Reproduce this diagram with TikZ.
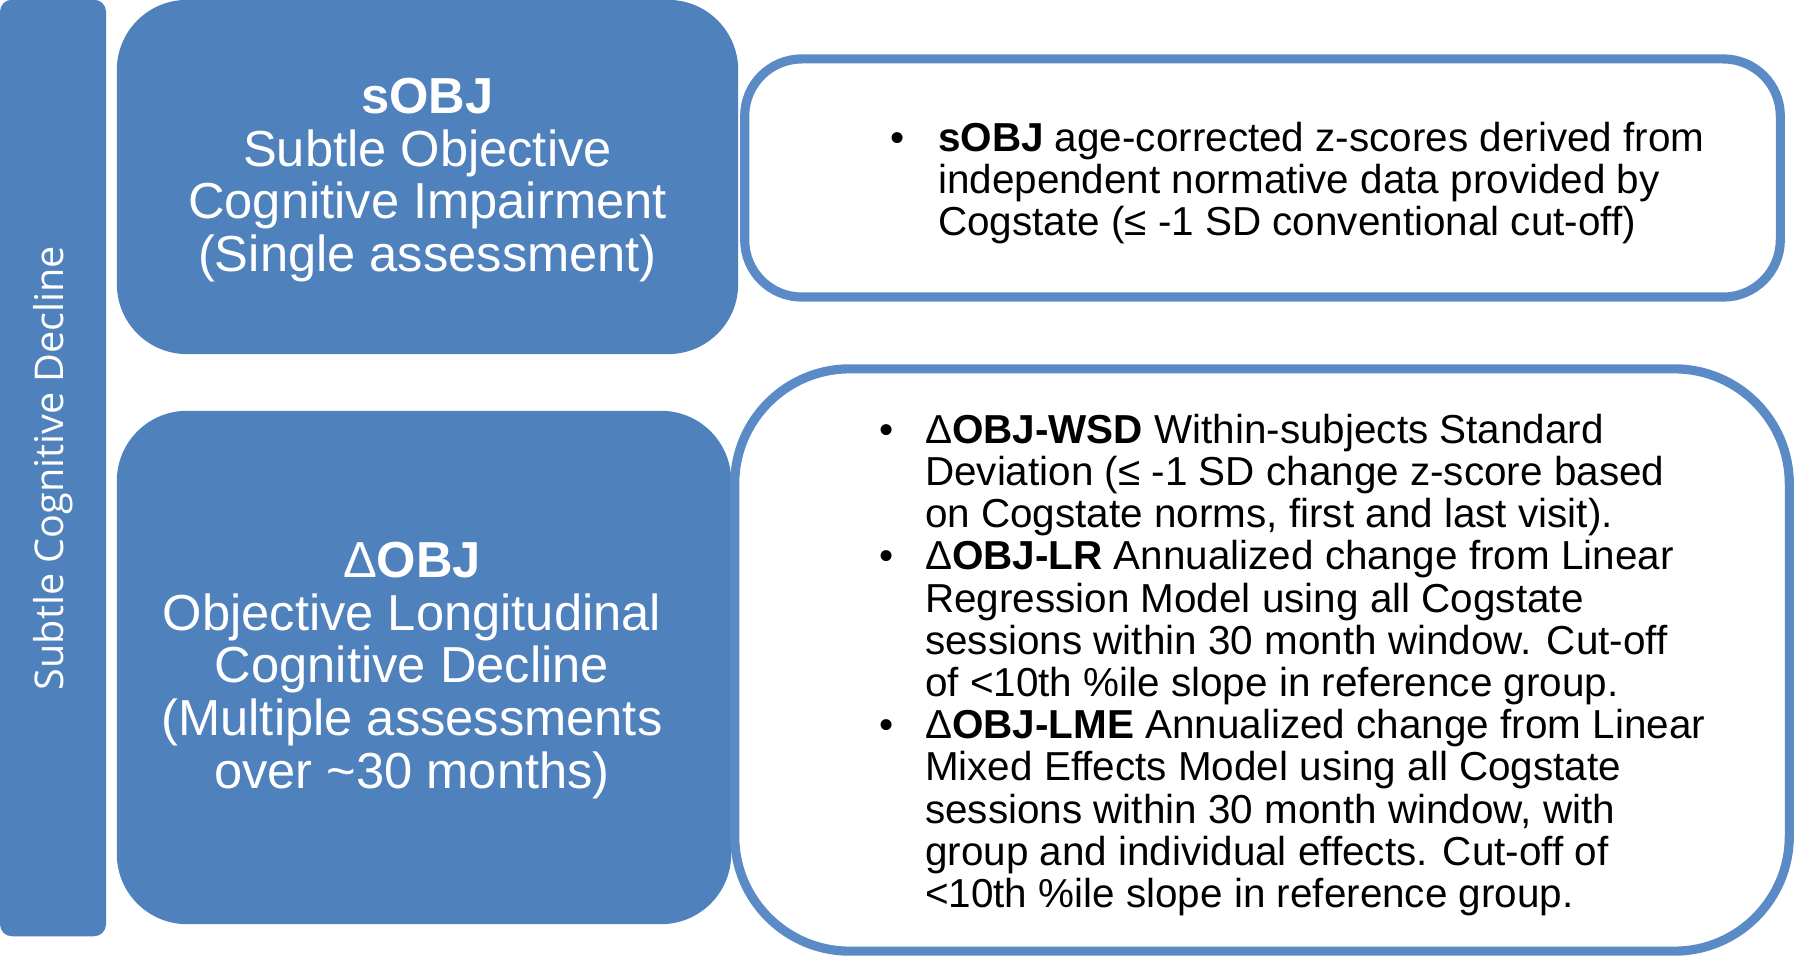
\documentclass[tikz,border=0pt]{standalone}
\usepackage{fontspec}
\setmainfont{Liberation Sans}
\newfontfamily\sidefont{Open Sans}
\usetikzlibrary{positioning}
\definecolor{boxblue}{HTML}{4F81BD}
\definecolor{rimblue}{HTML}{5B8BC6}
\begin{document}
\begin{tikzpicture}[x=0.01cm,y=-0.01cm,
  sidebar/.style={fill=boxblue,rounded corners=0.12cm,minimum width=9.36cm,minimum height=1.06cm,
    rotate=90,text=white,font=\sidefont\fontsize{11.25}{13}\selectfont},
  keybox/.style={fill=boxblue,rounded corners=0.7cm,text=white,
    font=\fontsize{14.4}{15}\selectfont},
  notebox/.style={draw=rimblue,line width=2.6pt,fill=white},
  notetext/.style={inner sep=0pt,yshift=-0.07cm,font=\fontsize{11.5}{12}\selectfont}]
  \useasboundingbox (0,0) rectangle (1800,958);
  \node[sidebar] (bar) at (53,468) {Subtle Cognitive Decline};
  \node[keybox,minimum width=6.21cm,minimum height=3.54cm] (sobj) at (427.5,177)
    {\begin{tabular}{@{}c@{}}\rule{0pt}{13.3pt}\textbf{sOBJ}\\Subtle Objective\\Cognitive Impairment\\(Single assessment)\end{tabular}};
  \node[keybox,minimum width=6.14cm,minimum height=5.13cm] (dobj) at (424,667.5)
    {\begin{tabular}{@{}c@{\hspace{0.24cm}}}\rule{0pt}{13.3pt}Δ\textbf{OBJ}\\Objective Longitudinal\\Cognitive Decline\\(Multiple assessments\\over \textasciitilde30 months)\end{tabular}};
  \node[notebox,rounded corners=0.57cm,minimum width=10.35cm,minimum height=2.38cm] (snote) at (1262.5,178) {};
  \node[notebox,rounded corners=1.15cm,minimum width=10.54cm,minimum height=5.82cm] (dnote) at (1262,660) {};
  \node[notetext,right=1.50cm of snote.west] (stext) {\begin{tabular}{@{}l@{\hspace{0.33cm}}l@{}}
    \textbullet & \textbf{sOBJ} age-corrected z-scores derived from\\
     & independent normative data provided by\\
     & Cogstate (≤ -1 SD conventional cut-off)
  \end{tabular}};
  \node[notetext,right=1.49cm of dnote.west] (dtext) {\begin{tabular}{@{}l@{\hspace{0.31cm}}l@{}}
    \textbullet & Δ\textbf{OBJ-WSD} Within-subjects Standard\\
     & Deviation (≤ -1 SD change z-score based\\
     & on Cogstate norms, first and last visit).\\
    \textbullet & Δ\textbf{OBJ-LR} Annualized change from Linear\\
     & Regression Model using all Cogstate\\
     & sessions within 30 month window. Cut-off\\
     & of <10th \%ile slope in reference group.\\
    \textbullet & Δ\textbf{OBJ-LME} Annualized change from Linear\\
     & Mixed Effects Model using all Cogstate\\
     & sessions within 30 month window, with\\
     & group and individual effects. Cut-off of\\
     & <10th \%ile slope in reference group.
  \end{tabular}};
\end{tikzpicture}
\end{document}
